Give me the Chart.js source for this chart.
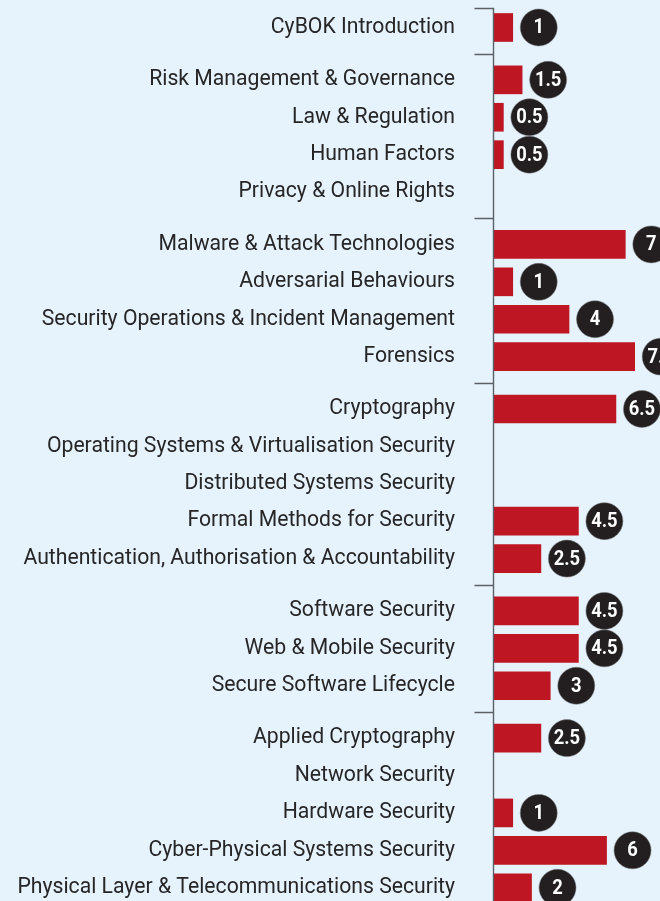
<!DOCTYPE html>
<html>
<head>
<meta charset="utf-8">
<script src="https://cdn.jsdelivr.net/npm/chart.js@4"></script>
<style>
  html, body { margin: 0; padding: 0; background: #e6f3fd; }
  #wrap { width: 660px; height: 901px; overflow: hidden; }
</style>
</head>
<body>
<div id="wrap"><canvas id="cybok" width="660" height="901"></canvas></div>
<script>
// groups of knowledge areas (a small gap separates each group)
const groups = [
  ['CyBOK Introduction'],
  ['Risk Management & Governance', 'Law & Regulation', 'Human Factors', 'Privacy & Online Rights'],
  ['Malware & Attack Technologies', 'Adversarial Behaviours', 'Security Operations & Incident Management', 'Forensics'],
  ['Cryptography', 'Operating Systems & Virtualisation Security', 'Distributed Systems Security',
   'Formal Methods for Security', 'Authentication, Authorisation & Accountability'],
  ['Software Security', 'Web & Mobile Security', 'Secure Software Lifecycle'],
  ['Applied Cryptography', 'Network Security', 'Hardware Security', 'Cyber-Physical Systems Security',
   'Physical Layer & Telecommunications Security']
];
const values = [
  1,
  1.5, 0.5, 0.5, null,
  7, 1, 4, 7.5,
  6.5, null, null, 4.5, 2.5,
  4.5, 4.5, 3,
  2.5, null, 1, 6, 2
];

const GROUP_GAP = 0.4;
const labels = [];
const positions = [];
const separators = [];
let row = 0;
groups.forEach((g, gi) => {
  const start = row + gi * GROUP_GAP;
  separators.push(gi === 0 ? start - 0.53 : start - (1 + GROUP_GAP) / 2);
  g.forEach(name => {
    labels.push(name);
    positions.push(row + gi * GROUP_GAP);
    row++;
  });
});
const points = values.map((v, i) => ({ x: v, y: positions[i] }));

// axis line + group ticks, and the round value badges
const decor = {
  id: 'decor',
  afterDatasetsDraw(chart) {
    const { ctx, chartArea } = chart;
    const ys = chart.scales.y;
    const x0 = chartArea.left - 0.5;
    ctx.save();
    ctx.strokeStyle = '#5b6066';
    ctx.lineWidth = 1.4;
    ctx.beginPath();
    ctx.moveTo(x0, ys.getPixelForValue(separators[0]));
    ctx.lineTo(x0, chart.height);
    separators.forEach(s => {
      const py = Math.round(ys.getPixelForValue(s)) + 0.5;
      ctx.moveTo(x0 - 19, py);
      ctx.lineTo(x0, py);
    });
    ctx.stroke();

    const meta = chart.getDatasetMeta(0);
    meta.data.forEach((bar, i) => {
      const v = values[i];
      if (v == null) return;
      const cx = bar.x + 26, cy = bar.y;
      ctx.fillStyle = '#231f20';
      ctx.beginPath();
      ctx.arc(cx, cy, 18.5, 0, Math.PI * 2);
      ctx.fill();
      ctx.strokeStyle = 'rgba(120,120,120,0.5)';
      ctx.lineWidth = 1;
      ctx.stroke();
      // badge digits are tall and slightly condensed
      ctx.save();
      ctx.translate(cx, cy + 1);
      ctx.scale(0.92, 1);
      ctx.fillStyle = '#ffffff';
      ctx.font = 'bold 20px Roboto';
      ctx.textAlign = 'center';
      ctx.textBaseline = 'middle';
      ctx.fillText(String(v), 0, 0);
      ctx.restore();
    });
    ctx.restore();
  }
};

new Chart(document.getElementById('cybok'), {
  type: 'bar',
  data: {
    datasets: [{
      data: points,
      backgroundColor: '#be1622',
      barThickness: 28,
      borderWidth: 0
    }]
  },
  options: {
    indexAxis: 'y',
    responsive: false,
    animation: false,
    layout: { padding: 0 },
    plugins: { legend: { display: false }, tooltip: { enabled: false } },
    scales: {
      x: { display: false, min: 0, max: 8.85 },
      y: {
        type: 'linear',
        reverse: true,
        offset: false,
        min: -0.735,
        max: 23.355,
        afterBuildTicks: (scale) => { scale.ticks = positions.map(p => ({ value: p })); },
        afterFit: (scale) => { scale.width = 494; scale.paddingTop = 0; scale.paddingBottom = 0; },
        grid: { display: false, drawTicks: false, offset: false },
        border: { display: false },
        ticks: {
          autoSkip: false,
          padding: 39,
          color: '#262626',
          font: { family: 'Roboto', size: 21.2 },
          callback: (v, i) => labels[i]
        }
      }
    }
  },
  plugins: [decor]
});
</script>
</body>
</html>
